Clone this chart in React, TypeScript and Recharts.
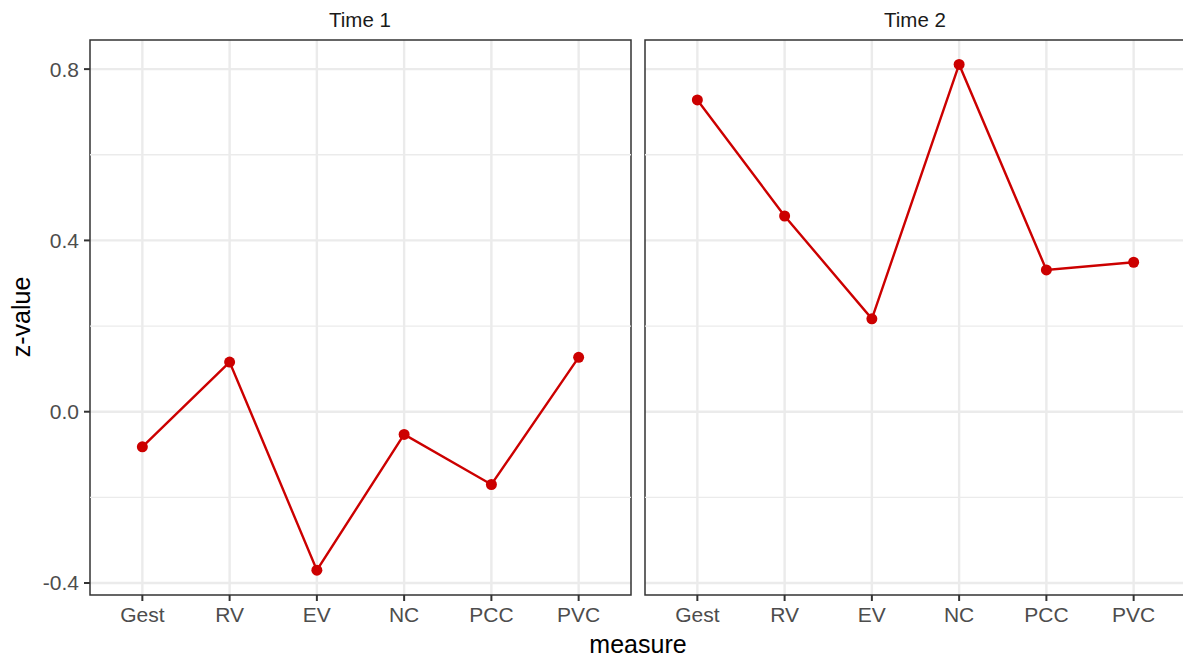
import { CartesianGrid, Line, LineChart, ReferenceArea, ReferenceLine, XAxis, YAxis } from "recharts"

const measures = ["Gest", "RV", "EV", "NC", "PCC", "PVC"]
const time1Values = [-0.082, 0.116, -0.37, -0.053, -0.17, 0.127]
const time2Values = [0.728, 0.457, 0.217, 0.811, 0.331, 0.349]
const panelTitles = ["Time 1", "Time 2"]
const yMajorTicks = [-0.4, 0, 0.4, 0.8]
const yMinorTicks = [-0.2, 0.2, 0.6]
const xTicks = [1, 2, 3, 4, 5, 6]

const X_DOMAIN: [number, number] = [0.4, 6.6]
const Y_DOMAIN: [number, number] = [-0.428, 0.868]
const LINE_COLOR = "#cc0000"
const FONT = "'Liberation Sans', Arial, Helvetica, sans-serif"

function buildRows(values: number[]) {
  return measures.map((measure, i) => ({ idx: i + 1, measure, value: values[i] }))
}

interface PanelProps {
  values: number[]
  showYAxis: boolean
  width: number
  margin: { top: number; right: number; bottom: number; left: number }
}

function Panel({ values, showYAxis, width, margin }: PanelProps) {
  const rows = buildRows(values)
  return (
    <LineChart width={width} height={661} data={rows} margin={margin}>
      <CartesianGrid
        stroke="#ebebeb"
        strokeWidth={2.4}
        horizontalValues={yMajorTicks}
        verticalValues={xTicks}
      />
      {yMinorTicks.map((v) => (
        <ReferenceLine key={v} y={v} stroke="#ebebeb" strokeWidth={1.3} />
      ))}
      <XAxis
        dataKey="idx"
        type="number"
        domain={X_DOMAIN}
        ticks={xTicks}
        allowDataOverflow
        tickFormatter={(v) => measures[Number(v) - 1] ?? ""}
        height={30}
        tickSize={6}
        tickMargin={6}
        axisLine={false}
        tickLine={{ stroke: "#333333", strokeWidth: 2 }}
        tick={{ fill: "#4d4d4d", fontSize: 21, fontFamily: FONT }}
      />
      <YAxis
        type="number"
        domain={Y_DOMAIN}
        ticks={yMajorTicks}
        allowDataOverflow
        hide={!showYAxis}
        width={90}
        tickSize={6}
        tickMargin={5}
        axisLine={false}
        tickFormatter={(v) => Number(v).toFixed(1)}
        tickLine={{ stroke: "#333333", strokeWidth: 2 }}
        tick={{ fill: "#4d4d4d", fontSize: 21, fontFamily: FONT }}
      />
      <ReferenceArea
        x1={X_DOMAIN[0]}
        x2={X_DOMAIN[1]}
        y1={Y_DOMAIN[0]}
        y2={Y_DOMAIN[1]}
        fill="none"
        stroke="#333333"
        strokeWidth={1.5}
        ifOverflow="visible"
      />
      <Line
        dataKey="value"
        type="linear"
        stroke={LINE_COLOR}
        strokeWidth={2.4}
        dot={{ r: 5.5, fill: LINE_COLOR, stroke: "none" }}
        activeDot={false}
        isAnimationActive={false}
      />
    </LineChart>
  )
}

export default function App() {
  return (
    <div style={{ position: "relative", width: 1183, height: 661, overflow: "hidden", background: "#fff" }}>
      <style>{"body{margin:0}"}</style>
      <div style={{ position: "absolute", left: 0, top: 0 }}>
        <Panel values={time1Values} showYAxis width={640} margin={{ top: 40, right: 9, bottom: 36, left: 0 }} />
      </div>
      <div style={{ position: "absolute", left: 640, top: 0 }}>
        <Panel values={time2Values} showYAxis={false} width={560} margin={{ top: 40, right: 14, bottom: 36, left: 5 }} />
      </div>
      <svg
        width={1183}
        height={661}
        style={{ position: "absolute", left: 0, top: 0, pointerEvents: "none" }}
        fontFamily={FONT}
      >
        <text x={360} y={27} textAnchor="middle" fontSize={20.5} fill="#1a1a1a">
          {panelTitles[0]}
        </text>
        <text x={915} y={27} textAnchor="middle" fontSize={20.5} fill="#1a1a1a">
          {panelTitles[1]}
        </text>
        <text x={638} y={653} textAnchor="middle" fontSize={25} fill="#000">
          measure
        </text>
        <text x={30} y={317} textAnchor="middle" fontSize={25} fill="#000" transform="rotate(-90 30 317)">
          z-value
        </text>
      </svg>
    </div>
  )
}
